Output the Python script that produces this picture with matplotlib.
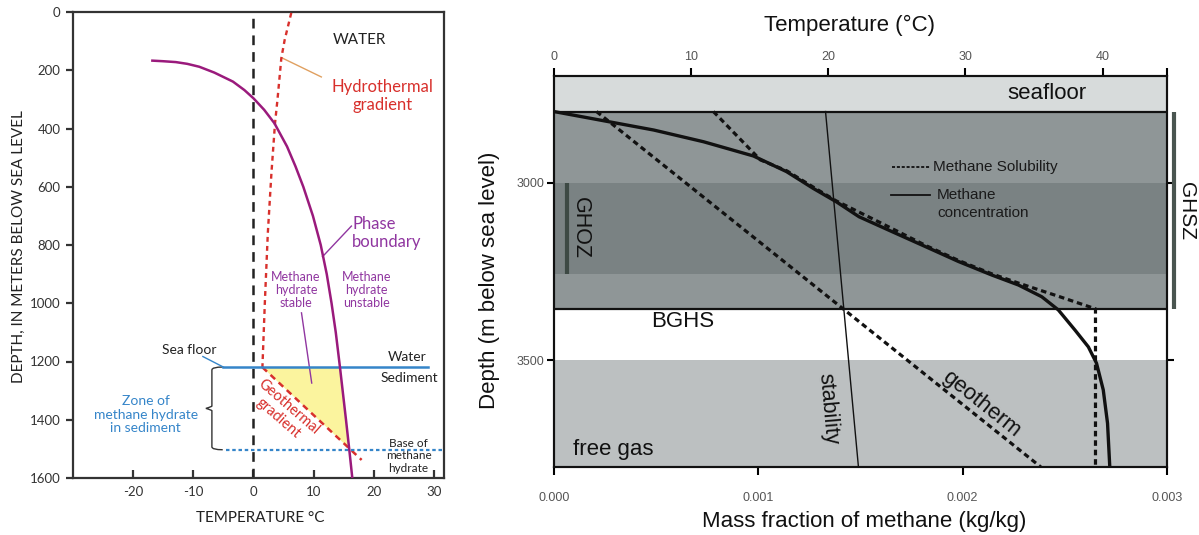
import numpy as np
import matplotlib
matplotlib.use("Agg")
import matplotlib.pyplot as plt
from matplotlib.path import Path
from matplotlib.patches import PathPatch
import matplotlib.transforms as mtransforms

plt.rcParams['lines.scale_dashes'] = False
plt.rcParams['axes.unicode_minus'] = False

# ---------------- Left panel data ----------------
phase_T = [-16.8, -15.0, -12.9, -11.0, -9.0, -6.5, -3.4, -1.5, 0.0, 1.8, 3.5, 5.6, 7.0, 8.3, 9.9, 11.2, 12.2, 13.0, 13.7, 14.4, 15.4, 15.95, 16.45]
phase_D = [167, 169, 172, 178, 188, 208, 239, 268, 296, 336, 382, 462, 530, 600, 700, 800, 900, 1000, 1100, 1220, 1400, 1503, 1600]
hydro_T = [6.3, 5.2, 4.65, 4.0, 3.6, 3.0, 2.4, 1.9, 1.5]
hydro_D = [3, 96, 158, 302, 381, 553, 759, 1000, 1220]
geograd_T = [1.5, 18.0]
geograd_D = [1220, 1538]
seafloor_depth = 1219
base_depth = 1503
seafloor_T = [-5.0, 29.0]
base_T = [-4.5, 31.7]
left_xticks = [-20, -10, 0, 10, 20, 30]
left_yticks = [0, 200, 400, 600, 800, 1000, 1200, 1400, 1600]

# ---------------- Right panel data ----------------
conc_x = [0.0, 0.000244, 0.000488, 0.000732, 0.000976, 0.001138, 0.001268, 0.001382, 0.001493, 0.001655, 0.001818,
          0.001980, 0.002143, 0.002273, 0.002387, 0.002468, 0.002550, 0.002615, 0.002655, 0.002688, 0.002709, 0.002720]
conc_d = [2800, 2826, 2852, 2885, 2925, 2969, 3016, 3054, 3096, 3138, 3180,
          3222, 3260, 3288, 3321, 3358, 3415, 3462, 3508, 3583, 3677, 3800]
sol_x = [0.00078, 0.00101, 0.00114, 0.00127, 0.00138, 0.00156, 0.00182, 0.00198, 0.00214, 0.00227, 0.00247, 0.00265, 0.00265]
sol_d = [2800, 2936, 2967, 3013, 3051, 3102, 3177, 3219, 3256, 3282, 3320, 3355, 3800]
geotherm_T = [3.1, 35.5]
geotherm_d = [2800, 3800]
stab_T = [19.8, 22.2]
stab_d = [2800, 3800]
seafloor_band = [2700, 2800]
ghoz_band = [3000, 3257]
ghsz_band = [2800, 3355]
freegas_band = [3500, 3800]
bottom_ticks = [0.000, 0.001, 0.002, 0.003]
bottom_labels = ["0.000", "0.001", "0.002", "0.003"]
top_ticks = [0, 10, 20, 30, 40]
depth_ticks = [3000, 3500]

W, H = 1199, 535
fig = plt.figure(figsize=(W / 100, H / 100), dpi=100)

LF = 'Lato'
RF = 'Liberation Sans'
purple = '#9a1a7c'
violet = '#9036a0'
red = '#d8302c'
blue = '#3585c9'

# ================= LEFT PANEL =================
ax = fig.add_axes([73 / W, 57 / H, 371 / W, 466 / H])
ax.set_xlim(-30, 31.7)
ax.set_ylim(1600, 0)
for s in ax.spines.values():
    s.set_linewidth(1.6)
    s.set_color('#333333')
ax.set_xticks(left_xticks)
ax.set_yticks(left_yticks)
ax.tick_params(axis='x', direction='in', length=6, width=1.6, color='#333333', labelsize=9.5, pad=6)
ax.tick_params(axis='y', direction='out', length=5, width=1.6, color='#333333', labelsize=9.5, pad=4)
for lab in ax.get_xticklabels() + ax.get_yticklabels():
    lab.set_fontfamily(LF)
    lab.set_color('#333333')

# yellow zone
dd = np.linspace(seafloor_depth, base_depth, 60)
g_left = np.interp(dd, geograd_D, geograd_T)
p_right = np.interp(dd, phase_D, phase_T)
ax.fill_betweenx(dd, g_left, p_right, color='#fbf49e', lw=0, zorder=1)

ax.axvline(0, color='#222222', lw=1.8, ls=(0, (7, 5)), zorder=2)
ax.plot(hydro_T, hydro_D, color=red, lw=1.7, ls=(0, (3.5, 3)), zorder=3)
ax.plot(geograd_T, geograd_D, color=red, lw=1.8, ls=(0, (4.5, 3.5)), zorder=3)
ax.plot(seafloor_T, [seafloor_depth] * 2, color=blue, lw=1.8, zorder=4)
ax.plot(base_T, [base_depth] * 2, color=blue, lw=1.6, ls=(0, (2.5, 2)), zorder=4, clip_on=False)
ax.plot(phase_T, phase_D, color=purple, lw=1.8, zorder=5)

# leader lines
ax.plot([4.8, 11.3], [158, 223], color='#e0a060', lw=1.0)
ax.plot([11.5, 16.3], [840, 735], color=violet, lw=1.0)
ax.plot([8.0, 9.7], [1033, 1274], color=violet, lw=1.0)
ax.plot([-8.4, -5.0], [1183, seafloor_depth], color=blue, lw=1.0)

# brace
xr, xm, xt = -5.1, -6.9, -7.9
mid = (seafloor_depth + base_depth) / 2
verts = [(xr, seafloor_depth), (xm, seafloor_depth), (xm, seafloor_depth + 10), (xm, seafloor_depth + 40),
         (xm, mid - 40), (xm, mid - 8), (xm, mid - 6), (xt, mid),
         (xm, mid + 6), (xm, mid + 8), (xm, mid + 40),
         (xm, base_depth - 40), (xm, base_depth - 10), (xm, base_depth), (xr, base_depth)]
codes = [Path.MOVETO, Path.CURVE3, Path.CURVE3, Path.LINETO,
         Path.LINETO, Path.LINETO, Path.CURVE3, Path.CURVE3,
         Path.CURVE3, Path.CURVE3, Path.LINETO,
         Path.LINETO, Path.LINETO, Path.CURVE3, Path.CURVE3]
ax.add_patch(PathPatch(Path(verts, codes), fill=False, edgecolor='#333333', lw=1.0))

ax.text(17.7, 96, 'WATER', fontfamily=LF, fontsize=11, color='#222222', ha='center', va='center')
ax.text(21.5, 290, 'Hydrothermal\ngradient', fontfamily=LF, fontsize=12, color=red, ha='center', va='center', linespacing=1.15)
ax.text(16.4, 760, 'Phase\nboundary', fontfamily=LF, fontsize=12, color=violet, ha='left', va='center', linespacing=1.15)
ax.text(7.1, 955, 'Methane\nhydrate\nstable', fontfamily=LF, fontsize=9, color=violet, ha='center', va='center', linespacing=1.1)
ax.text(18.8, 955, 'Methane\nhydrate\nunstable', fontfamily=LF, fontsize=9, color=violet, ha='center', va='center', linespacing=1.1)
ax.text(-10.7, 1162, 'Sea floor', fontfamily=LF, fontsize=10, color='#222222', ha='center', va='center')
ax.text(28.8, 1186, 'Water', fontfamily=LF, fontsize=10, color='#222222', ha='right', va='center')
ax.text(30.7, 1258, 'Sediment', fontfamily=LF, fontsize=10, color='#222222', ha='right', va='center')
ax.text(-17.9, 1383, 'Zone of\nmethane hydrate\nin sediment', fontfamily=LF, fontsize=10, color=blue, ha='center', va='center', linespacing=1.15)
ax.text(5.0, 1375, 'Geothermal\ngradient', fontfamily=LF, fontsize=10.5, color=red, ha='center', va='center', rotation=-41, rotation_mode='anchor', linespacing=1.1)
ax.text(25.8, 1524, 'Base of\nmethane\nhydrate', fontfamily=LF, fontsize=8.5, color='#222222', ha='center', va='center', linespacing=1.15)

fig.text(260 / W, 1 - 518 / H, 'TEMPERATURE °C', fontfamily=LF, fontsize=11, color='#222222', ha='center', va='center')
fig.text(19 / W, 1 - 247 / H, 'DEPTH, IN METERS BELOW SEA LEVEL', fontfamily=LF, fontsize=11, color='#222222', ha='center', va='center', rotation=90)

# ================= RIGHT PANEL =================
bx = fig.add_axes([554 / W, 68 / H, 613 / W, 391 / H])
bx.set_xlim(0, 0.003)
bx.set_ylim(3800, 2700)
tx = bx.twiny()
tx.set_xlim(0, 44.7)

bx.axhspan(*seafloor_band, color='#d7dbdb', lw=0, zorder=0)
bx.axhspan(*ghsz_band, color='#8f9697', lw=0, zorder=0)
bx.axhspan(*ghoz_band, color='#7a8283', lw=0, zorder=0)
bx.axhspan(*freegas_band, color='#bcc0c1', lw=0, zorder=0)
bx.axhline(seafloor_band[1], color='#111111', lw=1.6, zorder=2)
bx.axhline(ghsz_band[1], color='#111111', lw=1.6, zorder=2)

trans = mtransforms.blended_transform_factory(bx.transAxes, bx.transData)
bx.plot([0.021, 0.021], ghoz_band, color='#3d4944', lw=3, transform=trans, solid_capstyle='butt', zorder=3)
bx.plot([1.0114, 1.0114], ghsz_band, color='#4a5550', lw=3, transform=trans, solid_capstyle='butt', clip_on=False, zorder=3)

bx.plot(sol_x, sol_d, color='#111111', lw=2.3, ls=(0, (4, 2.8)), zorder=4)
bx.plot(conc_x, conc_d, color='#111111', lw=2.4, zorder=5, solid_joinstyle='round')
tx.plot(geotherm_T, geotherm_d, color='#111111', lw=2.3, ls=(0, (4, 2.8)), zorder=4)
tx.plot(stab_T, stab_d, color='#111111', lw=1.0, zorder=4)
tx.set_ylim(3800, 2700)

for s in bx.spines.values():
    s.set_linewidth(1.5)
    s.set_color('#111111')
for s in tx.spines.values():
    s.set_linewidth(1.5)
    s.set_color('#111111')

bx.set_xticks(bottom_ticks)
bx.set_xticklabels(bottom_labels)
bx.set_yticks(depth_ticks)
bx.tick_params(axis='x', direction='out', length=6, width=1.5, labelsize=9, labelcolor='#555555', pad=12)
bx.tick_params(axis='y', direction='out', length=5, width=1.5, labelsize=9, labelcolor='#555555', pad=2, right=True)
tx.set_xticks(top_ticks + [44.7])
tx.set_xticklabels([str(t) for t in top_ticks] + [''])
tx.tick_params(axis='x', direction='out', length=6, width=1.5, labelsize=9, labelcolor='#555555', pad=3)
for lab in bx.get_xticklabels() + bx.get_yticklabels() + tx.get_xticklabels():
    lab.set_fontfamily(RF)

bx.text(0.804, 2750, 'seafloor', fontfamily=RF, fontsize=16, color='#111111', ha='center', va='center', transform=trans)
bx.text(0.2104, 0.371, 'BGHS', fontfamily=RF, fontsize=16, color='#111111', ha='center', va='center', transform=bx.transAxes)
bx.text(0.031, 0.0435, 'free gas', fontfamily=RF, fontsize=16, color='#111111', ha='left', va='center', transform=bx.transAxes)
bx.text(0.0424, 0.611, 'GHOZ', fontfamily=RF, fontsize=15.5, color='#111111', ha='center', va='center', rotation=-90, transform=bx.transAxes)
bx.text(1.0326, 0.655, 'GHSZ', fontfamily=RF, fontsize=15, color='#111111', ha='center', va='center', rotation=-90, transform=bx.transAxes, clip_on=False)
bx.text(0.002093, 3624, 'geotherm', fontfamily=RF, fontsize=16, color='#111111', ha='center', va='center', rotation=-38.6, rotation_mode='anchor')
bx.text(0.001341, 3635, 'stability', fontfamily=RF, fontsize=15.5, color='#111111', ha='center', va='center', rotation=-85, rotation_mode='anchor')

# legend
bx.plot([0.551, 0.613], [0.767, 0.767], color='#111111', lw=1.3, ls=(0, (2.2, 1.3)), transform=bx.transAxes)
bx.plot([0.549, 0.613], [0.696, 0.696], color='#111111', lw=1.3, transform=bx.transAxes)
bx.text(0.618, 0.767, 'Methane Solubility', fontfamily=RF, fontsize=11, color='#1a1a1a', ha='left', va='center', transform=bx.transAxes)
bx.text(0.625, 0.696, 'Methane', fontfamily=RF, fontsize=11, color='#1a1a1a', ha='left', va='center', transform=bx.transAxes)
bx.text(0.625, 0.650, 'concentration', fontfamily=RF, fontsize=11, color='#1a1a1a', ha='left', va='center', transform=bx.transAxes)

fig.text(849 / W, 1 - 25 / H, 'Temperature (°C)', fontfamily=RF, fontsize=16, color='#111111', ha='center', va='center')
fig.text(864 / W, 1 - 522 / H, 'Mass fraction of methane (kg/kg)', fontfamily=RF, fontsize=16, color='#111111', ha='center', va='center')
fig.text(490 / W, 1 - 280 / H, 'Depth (m below sea level)', fontfamily=RF, fontsize=16, color='#111111', ha='center', va='center', rotation=90)

fig.savefig('out.png', dpi=100)
